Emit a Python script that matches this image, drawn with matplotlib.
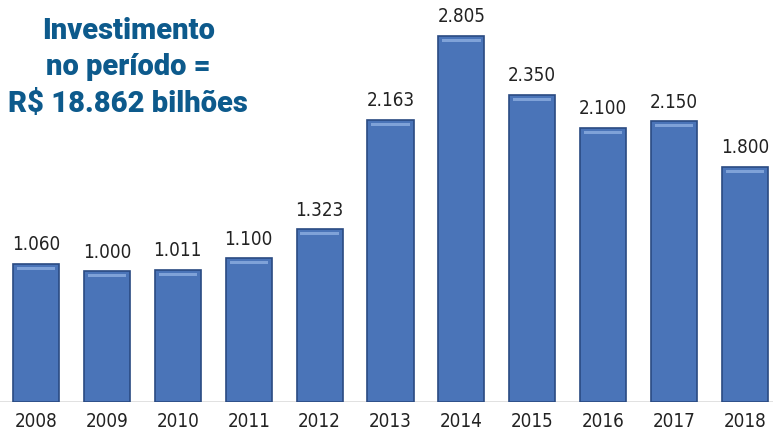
import matplotlib.pyplot as plt

anos = ['2008', '2009', '2010', '2011', '2012', '2013', '2014', '2015', '2016', '2017', '2018']
investimento = [1060, 1000, 1011, 1100, 1323, 2163, 2805, 2350, 2100, 2150, 1800]
rotulos = ['1.060', '1.000', '1.011', '1.100', '1.323', '2.163', '2.805', '2.350', '2.100', '2.150', '1.800']
titulo = 'Investimento\nno período =\nR$ 18.862 bilhões'

fig = plt.figure(figsize=(7.73, 4.33), dpi=100)
ax = fig.add_axes([0, 0.0716, 1, 0.9284])

x = list(range(len(anos)))
ax.bar(x, investimento, width=0.65, color='#4a74b8', edgecolor='#2a4a82', linewidth=1.2, zorder=2)
# brilho no topo das barras
ax.bar(x, [22] * len(x), bottom=[v - 45 for v in investimento], width=0.54,
       color='#7fa2d8', edgecolor='none', zorder=3)

for xi, v, r in zip(x, investimento, rotulos):
    ax.text(xi, v + 75, r, ha='center', va='bottom', fontsize=13.5,
            family='DejaVu Sans', stretch='condensed', color='#222222')

ax.axhline(0, color='#dcdcdc', lw=1.2, zorder=1)
ax.set_xlim(-0.508, 10.395)
ax.set_ylim(0, 3080)
ax.set_xticks(x)
ax.set_xticklabels(anos, fontsize=13.5, family='DejaVu Sans', stretch='condensed',
                   color='#222222')
ax.tick_params(axis='x', length=0, pad=7)
ax.set_yticks([])
for s in ax.spines.values():
    s.set_visible(False)

fig.text(0.166, 0.961, titulo, ha='center', va='top', fontsize=21,
         family=['Roboto', 'DejaVu Sans'], weight='black', color='#0d5a8c',
         linespacing=1.38)

fig.savefig('out.png', dpi=100)
